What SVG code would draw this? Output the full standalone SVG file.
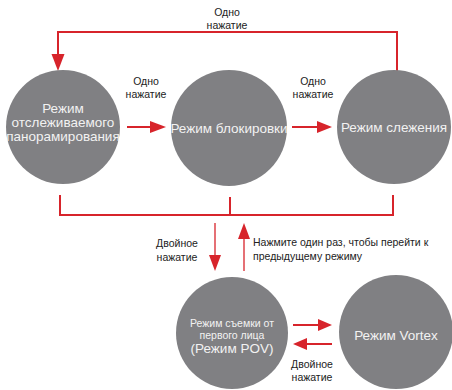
<svg xmlns="http://www.w3.org/2000/svg" width="452" height="390" viewBox="0 0 452 390">
<style>
.node{fill:#808083}
.nt{font-family:"Liberation Sans",Arial,sans-serif;fill:#f2f2f2;text-anchor:middle}
.lb{font-family:"Liberation Sans",Arial,sans-serif;fill:#222;font-size:10.5px}
.ln{stroke:#d7242b;stroke-width:2;fill:none}
.thin{stroke:#d7242b;stroke-width:1.3;fill:none}
.ah{fill:#d7242b}
</style>
<rect width="452" height="390" fill="#ffffff"/>
<g id="connectors">
<path class="ln" d="M397,71 V32 H58 V55"/>
<polygon class="ah" points="51.5,54 64.5,54 58,71"/>
<line class="ln" x1="127" y1="127" x2="152" y2="127"/>
<polygon class="ah" points="150,121 166,127 150,133"/>
<line class="ln" x1="292" y1="127" x2="319" y2="127"/>
<polygon class="ah" points="317,121 332,127 317,133"/>
<path class="ln" d="M60,195 V215 H393 V195 M230,197 V215"/>
<line class="thin" x1="215" y1="223" x2="215" y2="256"/>
<polygon class="ah" points="209,255 221,255 215,271"/>
<line class="thin" x1="244" y1="271" x2="244" y2="238"/>
<polygon class="ah" points="238,239 250,239 244,223"/>
<line class="ln" x1="293" y1="325" x2="320" y2="325"/>
<polygon class="ah" points="318,319 332,325 318,331"/>
<line class="ln" x1="332" y1="344" x2="305" y2="344"/>
<polygon class="ah" points="307,338 293,344 307,350"/>
<text class="lb" text-anchor="middle" x="227" y="16">Одно</text>
<text class="lb" text-anchor="middle" x="227" y="29">нажатие</text>
<text class="lb" text-anchor="middle" x="146" y="85">Одно</text>
<text class="lb" text-anchor="middle" x="146" y="98">нажатие</text>
<text class="lb" text-anchor="middle" x="313" y="85">Одно</text>
<text class="lb" text-anchor="middle" x="313" y="98">нажатие</text>
<text class="lb" text-anchor="middle" x="177" y="247">Двойное</text>
<text class="lb" text-anchor="middle" x="177" y="261">нажатие</text>
<text class="lb" x="253" y="246">Нажмите один раз, чтобы перейти к</text>
<text class="lb" x="253" y="260">предыдущему режиму</text>
<text class="lb" text-anchor="middle" x="312" y="368">Двойное</text>
<text class="lb" text-anchor="middle" x="312" y="381">нажатие</text>
</g>
<g id="node-pan">
<circle class="node" cx="63" cy="127" r="57"/>
<text class="nt" font-size="13.5" x="63" y="113">Режим</text>
<text class="nt" font-size="13.5" x="63" y="127">отслеживаемого</text>
<text class="nt" font-size="13.5" x="63" y="141">панорамирования</text>
</g>
<g id="node-lock">
<circle class="node" cx="229" cy="128" r="58"/>
<text class="nt" font-size="13.5" x="229" y="133">Режим блокировки</text>
</g>
<g id="node-follow">
<circle class="node" cx="394" cy="127" r="57"/>
<text class="nt" font-size="13.5" x="394" y="132">Режим слежения</text>
</g>
<g id="node-pov">
<circle class="node" cx="232" cy="333" r="56"/>
<text class="nt" font-size="10.5" x="232" y="327">Режим съемки от</text>
<text class="nt" font-size="10.5" x="232" y="339">первого лица</text>
<text class="nt" font-size="13.5" x="232" y="353">(Режим POV)</text>
</g>
<g id="node-vortex">
<circle class="node" cx="396" cy="332" r="57"/>
<text class="nt" font-size="13.5" x="396" y="340">Режим Vortex</text>
</g>
</svg>
